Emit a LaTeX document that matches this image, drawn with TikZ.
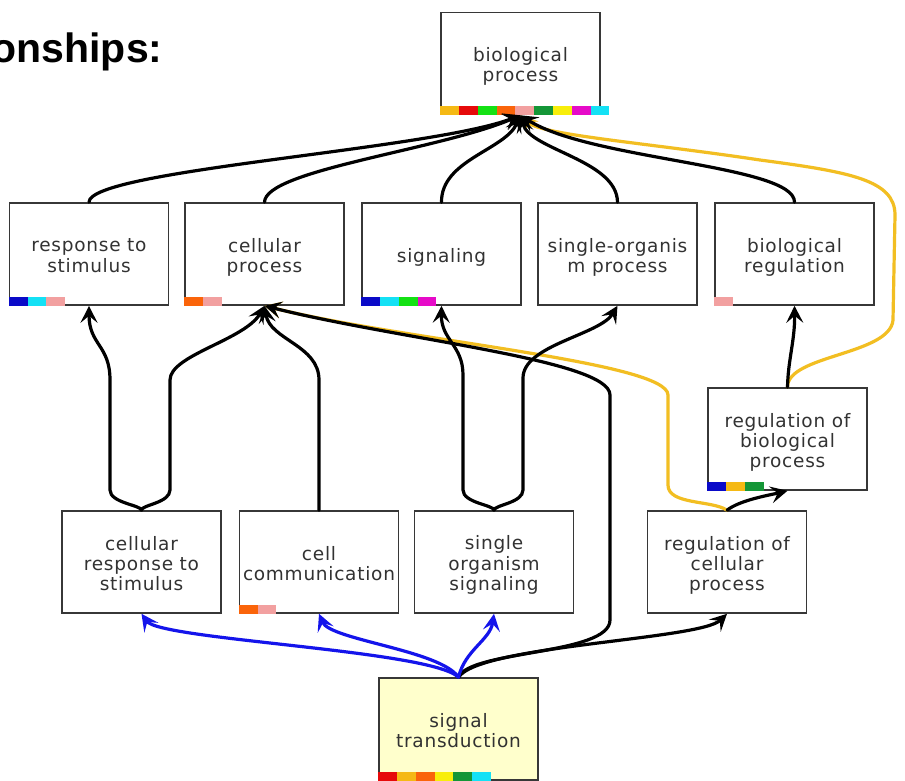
\documentclass[tikz,border=0pt]{standalone}
\usepackage{fontspec}
\usetikzlibrary{arrows.meta}

\newfontfamily\termfont[LetterSpace=4]{DejaVu Sans}
\newfontfamily\headfont{Liberation Sans}

\definecolor{boxgrey}{RGB}{55,55,55}
\definecolor{textgrey}{RGB}{50,50,50}
\definecolor{regyellow}{RGB}{242,190,34}
\definecolor{partblue}{RGB}{20,20,235}
\definecolor{stfill}{RGB}{255,255,204}
% colour bar blocks
\definecolor{cgold}{RGB}{245,185,20}
\definecolor{cred}{RGB}{230,10,10}
\definecolor{clime}{RGB}{20,225,20}
\definecolor{corange}{RGB}{250,100,10}
\definecolor{cpink}{RGB}{242,160,160}
\definecolor{cdgreen}{RGB}{20,150,55}
\definecolor{cyellow}{RGB}{248,238,10}
\definecolor{cmagenta}{RGB}{230,10,200}
\definecolor{ccyan}{RGB}{20,225,245}
\definecolor{cblue}{RGB}{10,10,200}

\tikzset{
  term/.style={draw=boxgrey, line width=1.6pt, fill=white, minimum width=159pt,
    minimum height=102pt, inner sep=0pt, text=textgrey,
    font=\termfont\fontsize{18.5}{20}\selectfont},
  edge/.style={line width=3.2pt, line cap=round, -{Stealth[length=17pt,width=17pt,inset=7pt]}},
  isa/.style={edge, black},
  partof/.style={edge, partblue},
  regs/.style={edge, regyellow},
}

% term label, set a little below the box centre
\newcommand\termtext[1]{\raisebox{-4pt}[\height][\depth]{\begin{tabular}{@{}c@{}}#1\end{tabular}}}

% colour bar along the bottom of a term box
\newcommand\termbar[2]{%
  \foreach \c [count=\i from 0] in {#2}
    \fill[\c] ([xshift=\i*18.8pt]#1.south west) rectangle ++(18.8pt,9pt);}

\begin{document}
\begin{tikzpicture}[x=1pt,y=-1pt]
    \fill[white] (0,0) rectangle (905,781);
    \useasboundingbox (0,0) rectangle (905,781);

    \node[anchor=base east, font=\headfont\bfseries\fontsize{41}{44}\selectfont] (head) at (166,63) {onships:};

    % terms
    \node[term] (bp) at (520.5,63.5) {\termtext{biological\\process}};
    \node[term] (rts) at (89,254) {\termtext{response to\\stimulus}};
    \node[term] (cp) at (264.5,254) {\termtext{cellular\\process}};
    \node[term] (sig) at (441.5,254) {\termtext{signaling}};
    \node[term] (sop) at (617.5,254) {\termtext{single-organis\\m process}};
    \node[term] (breg) at (794.5,254) {\termtext{biological\\regulation}};
    \node[term] (rbp) at (787.5,439) {\termtext{regulation of\\biological\\process}};
    \node[term] (crs) at (141.5,562) {\termtext{cellular\\response to\\stimulus}};
    \node[term] (ccom) at (319,562) {\termtext{cell\\communication}};
    \node[term] (sos) at (494,562) {\termtext{single\\organism\\signaling}};
    \node[term] (rcp) at (727,562) {\termtext{regulation of\\cellular\\process}};
    \node[term, fill=stfill] (st) at (458.5,729) {\termtext{signal\\transduction}};

    \termbar{bp}{cgold,cred,clime,corange,cpink,cdgreen,cyellow,cmagenta,ccyan}
    \termbar{rts}{cblue,ccyan,cpink}
    \termbar{cp}{corange,cpink}
    \termbar{sig}{cblue,ccyan,clime,cmagenta}
    \termbar{breg}{cpink}
    \termbar{rbp}{cblue,cgold,cdgreen}
    \termbar{ccom}{corange,cpink}
    \termbar{st}{cred,cgold,corange,cyellow,cdgreen,ccyan}

    % regulates
    \draw[regs] (rbp.north) .. controls (787,355) and (890,355) .. (893,320) -- (895,215)
        .. controls (895,180) and (850,172) .. (760,160) .. controls (640,142) and (540,135) .. (bp.south);
    \draw[regs] (rcp.north) .. controls (712,500) and (668,505) .. (668,485) -- (668,395)
        .. controls (668,362) and (400,340) .. (cp.south);

    % is_a
    \draw[isa] (rts.north) .. controls (89,170) and (430,150) .. (bp.south);
    \draw[isa] (cp.north) .. controls (265,170) and (440,150) .. (bp.south);
    \draw[isa] (sig.north) .. controls (441,160) and (505,150) .. (bp.south);
    \draw[isa] (sop.north) .. controls (617,160) and (530,150) .. (bp.south);
    \draw[isa] (breg.north) .. controls (795,165) and (590,160) .. (bp.south);
    \draw[isa] (rbp.north) .. controls (788,360) and (795,340) .. (breg.south);
    \draw[isa] (crs.north) .. controls (141,505) and (110,503) .. (110,490) -- (110,380)
        .. controls (110,345) and (89,345) .. (rts.south);
    \draw[isa] (crs.north) .. controls (141,505) and (170,503) .. (170,490) -- (170,380)
        .. controls (170,355) and (245,340) .. (cp.south);
    \draw[isa] (ccom.north) -- (319,380) .. controls (319,345) and (270,340) .. (cp.south);
    \draw[isa] (sos.north) .. controls (494,505) and (463,503) .. (463,490) -- (463,375)
        .. controls (463,345) and (441,340) .. (sig.south);
    \draw[isa] (sos.north) .. controls (494,505) and (523,503) .. (523,490) -- (523,378)
        .. controls (523,345) and (600,335) .. (sop.south);
    \draw[isa] (st.north) .. controls (470,650) and (610,655) .. (610,620) -- (610,395)
        .. controls (610,360) and (400,340) .. (cp.south);
    \draw[isa] (rcp.north) .. controls (740,500) and (770,495) .. (rbp.south);
    \draw[isa] (st.north) .. controls (480,645) and (700,640) .. (rcp.south);

    % part_of
    \draw[partof] (st.north) .. controls (430,650) and (160,640) .. (crs.south);
    \draw[partof] (st.north) .. controls (440,650) and (330,640) .. (ccom.south);
    \draw[partof] (st.north) .. controls (465,650) and (490,640) .. (sos.south);
\end{tikzpicture}
\end{document}
